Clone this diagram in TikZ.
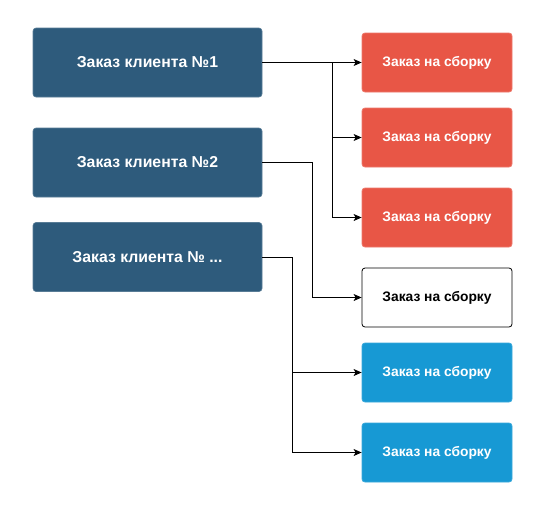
\documentclass[tikz,border=0pt]{standalone}
\usepackage{fontspec}
\setmainfont{Liberation Sans}
\usetikzlibrary{arrows.meta}
\definecolor{cdark}{HTML}{2E5B7C}
\definecolor{cred}{HTML}{E85646}
\definecolor{cblue}{HTML}{1799D4}
\begin{document}
\begin{tikzpicture}[x=1pt,y=-1pt,
  client/.style={rounded corners=3pt, fill=cdark, draw=cdark!80!white, line width=0.6pt, minimum width=229pt, minimum height=69pt, inner sep=0pt, text=white, font=\bfseries\fontsize{15.8}{18}\selectfont},
  part/.style={rounded corners=3pt, minimum width=150pt, minimum height=59pt, inner sep=0pt, line width=0.8pt, font=\bfseries\fontsize{13.8}{16}\selectfont},
  redp/.style={part, fill=cred, draw=cred!80!white, text=white},
  bluep/.style={part, fill=cblue, draw=cblue!85!white, text=white},
  whitep/.style={part, fill=white, draw=black, text=black},
  conn/.style={line width=0.9pt, draw=black, -{Stealth[length=8pt,width=7pt,inset=2pt]}},
  plain/.style={line width=0.9pt, draw=black}]
\useasboundingbox (0,0) rectangle (546,504);
\node[client] (b1) at (147.5,62.5) {Заказ клиента №1};
\node[client] (b2) at (147.5,162.5) {Заказ клиента №2};
\node[client] (b3) at (147.5,257) {Заказ клиента № ...};
\node[redp] (r1) at (437,62.5) {Заказ на сборку};
\node[redp] (r2) at (437,137.5) {Заказ на сборку};
\node[redp] (r3) at (437,217.5) {Заказ на сборку};
\node[whitep] (r4) at (437,297.5) {Заказ на сборку};
\node[bluep] (r5) at (437,372.5) {Заказ на сборку};
\node[bluep] (r6) at (437,452.5) {Заказ на сборку};
\coordinate (j1) at (332.5,62.5);
\coordinate (j2) at (312.5,162.5);
\coordinate (j3) at (292.5,257);
\draw[conn] (b1.east) -- (r1.west);
\draw[conn] (j1) |- (r2.west);
\draw[conn] (j1) |- (r3.west);
\draw[plain] (b2.east) -- (j2);
\draw[conn] (j2) |- (r4.west);
\draw[plain] (b3.east) -- (j3);
\draw[conn] (j3) |- (r5.west);
\draw[conn] (j3) |- (r6.west);
\end{tikzpicture}
\end{document}
